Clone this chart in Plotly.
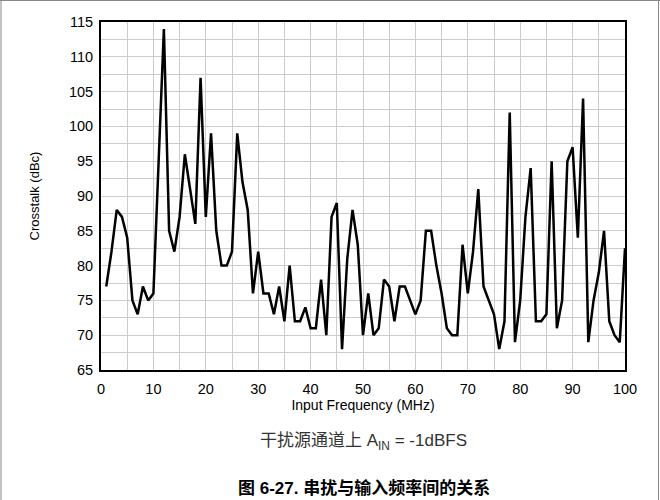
import plotly.graph_objects as go

freq_mhz = list(range(1, 101))
crosstalk_dbc = [
    77, 82, 88, 87, 84, 75, 73, 77, 75, 76,
    95, 114, 85, 82, 87, 96, 91, 86, 107, 87,
    99, 85, 80, 80, 82, 99, 92, 88, 76, 82,
    76, 76, 73, 77, 72, 80, 72, 72, 74, 71,
    71, 78, 70, 87, 89, 68, 81, 88, 83, 70,
    76, 70, 71, 78, 77, 72, 77, 77, 75, 73,
    75, 85, 85, 80, 76, 71, 70, 70, 83, 76,
    82, 91, 77, 75, 73, 68, 72, 102, 69, 75,
    87, 94, 72, 72, 73, 95, 71, 75, 95, 97,
    84, 104, 69, 75, 79, 85, 72, 70, 69, 82.5,
]
x_grid = [0, 5, 10, 15, 20, 25, 30, 35, 40, 45, 50, 55, 60, 65, 70, 75, 80, 85, 90, 95, 100]
x_labels = ["0", " ", "10", " ", "20", " ", "30", " ", "40", " ", "50", " ", "60", " ", "70", " ", "80", " ", "90", " ", "100"]
y_grid = [65, 67.5, 70, 72.5, 75, 77.5, 80, 82.5, 85, 87.5, 90, 92.5, 95, 97.5, 100, 102.5, 105, 107.5, 110, 112.5, 115]
y_labels = ["65", " ", "70", " ", "75", " ", "80", " ", "85", " ", "90", " ", "95", " ", "100", " ", "105", " ", "110", " ", "115"]
x_title = "Input Frequency (MHz)"
y_title = "Crosstalk (dBc)"
subtitle = "干扰源通道上 A<sub>IN</sub> = -1dBFS"
caption = "<b>图 6-27. 串扰与输入频率间的关系</b>"

L, R, T, B = 101, 35, 22, 130
W, H = 660, 500
pw, ph = W - L - R, H - T - B

def px(xp):
    return (xp - L) / pw

def py(yp):
    return (H - B - yp) / ph

fig = go.Figure(go.Scatter(x=freq_mhz, y=crosstalk_dbc, mode="lines",
                           line=dict(color="black", width=2.5),
                           showlegend=False))

font_main = "Liberation Sans, Arial, sans-serif"
grid = "#cccccc"
fig.update_layout(
    width=W, height=H,
    margin=dict(l=L, r=R, t=T, b=B, autoexpand=False),
    paper_bgcolor="white", plot_bgcolor="white",
    font=dict(family=font_main, color="black", size=14),
    xaxis=dict(range=[0, 100], tickmode="array", tickvals=x_grid, ticktext=x_labels,
               showgrid=True, gridcolor=grid, gridwidth=1, zeroline=False,
               showline=True, linecolor="black", linewidth=2, mirror=True,
               ticks="", ticklabelstandoff=5, tickfont=dict(size=14.5),
               title=dict(text=x_title, font=dict(size=14), standoff=4)),
    yaxis=dict(range=[65, 115], tickmode="array", tickvals=y_grid, ticktext=y_labels,
               showgrid=True, gridcolor=grid, gridwidth=1, zeroline=False,
               showline=True, linecolor="black", linewidth=2, mirror=True,
               ticks="", ticklabelstandoff=3, tickfont=dict(size=14.5),
               title=dict(text=y_title, font=dict(size=13), standoff=26)),
    annotations=[
        dict(text=subtitle, xref="paper", yref="paper", x=px(363), y=py(442),
             showarrow=False, xanchor="center", yanchor="middle",
             font=dict(size=17, family="Liberation Sans, Noto Sans CJK SC", color="#333")),
        dict(text=caption, xref="paper", yref="paper", x=px(364), y=py(488),
             showarrow=False, xanchor="center", yanchor="middle",
             font=dict(size=17, family="Liberation Sans, Noto Sans CJK SC", color="black")),
    ],
    shapes=[
        dict(type="line", xref="paper", yref="paper", x0=px(1), x1=px(1), y0=py(0), y1=py(500),
             line=dict(color="#888", width=1)),
        dict(type="line", xref="paper", yref="paper", x0=px(658.5), x1=px(658.5), y0=py(0), y1=py(500),
             line=dict(color="#888", width=1)),
        dict(type="line", xref="paper", yref="paper", x0=px(0), x1=px(660), y0=py(0.5), y1=py(0.5),
             line=dict(color="#888", width=1)),
    ],
)

fig.write_html("out.html", config={"displayModeBar": False},
               post_script="document.body.style.margin='0';document.body.style.padding='0';document.body.style.overflow='hidden';")
